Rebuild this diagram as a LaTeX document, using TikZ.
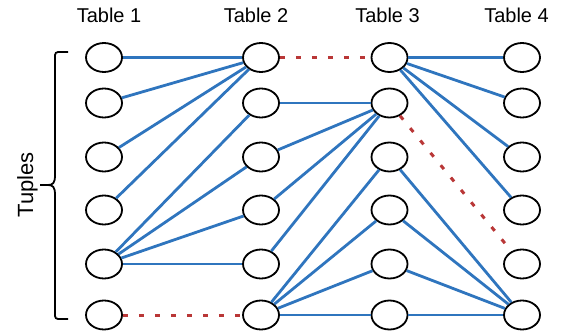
\documentclass[tikz,border=0pt]{standalone}
\usepackage{fontspec}
\setmainfont{Liberation Sans}
\usetikzlibrary{shapes.geometric}
\definecolor{eblue}{RGB}{47,117,190}
\definecolor{ered}{RGB}{185,55,55}
\begin{document}
\begin{tikzpicture}[x=1pt,y=-1pt,
  tup/.style={draw=black, line width=1.8pt, ellipse, minimum width=36pt, minimum height=29pt, inner sep=0pt},
  link/.style={draw=eblue, line width=2.8pt},
  nolink/.style={draw=ered, line width=3pt, dash pattern=on 5pt off 11pt},
  head/.style={font=\fontsize{20}{20}\selectfont, anchor=base, inner sep=0pt},
  bracket/.style={draw=black, line width=1.8pt}]
\useasboundingbox (0,0) rectangle (562,332);
% tuples
\foreach \c/\x in {1/104,2/261,3/389.5,4/522}{
  \foreach \r/\y in {1/57.5,2/103,3/157,4/210,5/264,6/315}{
    \node[tup] (t\c\r) at (\x,\y) {};
  }
}
% headers
\node[head] (h1) at (109,22) {Table 1};
\node[head] (h2) at (256,22) {Table 2};
\node[head] (h3) at (387.5,22) {Table 3};
\node[head] (h4) at (516.5,22) {Table 4};
% Tuples label
\node[rotate=90, anchor=base, inner sep=0pt, font=\fontsize{22}{22}\selectfont] (tl) at (33,185) {Tuples};
% brace
\draw[bracket, rounded corners=3pt] (68,52) -- (55,52) -- (55,176);
\draw[bracket] (55,175) .. controls (55,183) and (53,185) .. (48,185) -- (40,185);
\draw[bracket] (48,185) .. controls (53,185) and (55,187) .. (55,195);
\draw[bracket, rounded corners=3pt] (55,194) -- (55,319) -- (68,319);
% Table 1 - Table 2
\foreach \a/\b in {11/21,12/21,13/21,14/21,15/22,15/23,15/24,15/25}{
  \draw[link] (t\a) -- (t\b);
}
\draw[nolink] (t16) -- (t26);
% Table 2 - Table 3
\foreach \a/\b in {22/32,23/32,24/32,25/32,26/33,26/34,26/35,26/36}{
  \draw[link] (t\a) -- (t\b);
}
\draw[nolink] (t21) -- (t31);
% Table 3 - Table 4
\foreach \a/\b in {31/41,31/42,31/43,31/44,33/46,34/46,35/46,36/46}{
  \draw[link] (t\a) -- (t\b);
}
\draw[nolink] (t32) -- (t45);
\end{tikzpicture}
\end{document}
